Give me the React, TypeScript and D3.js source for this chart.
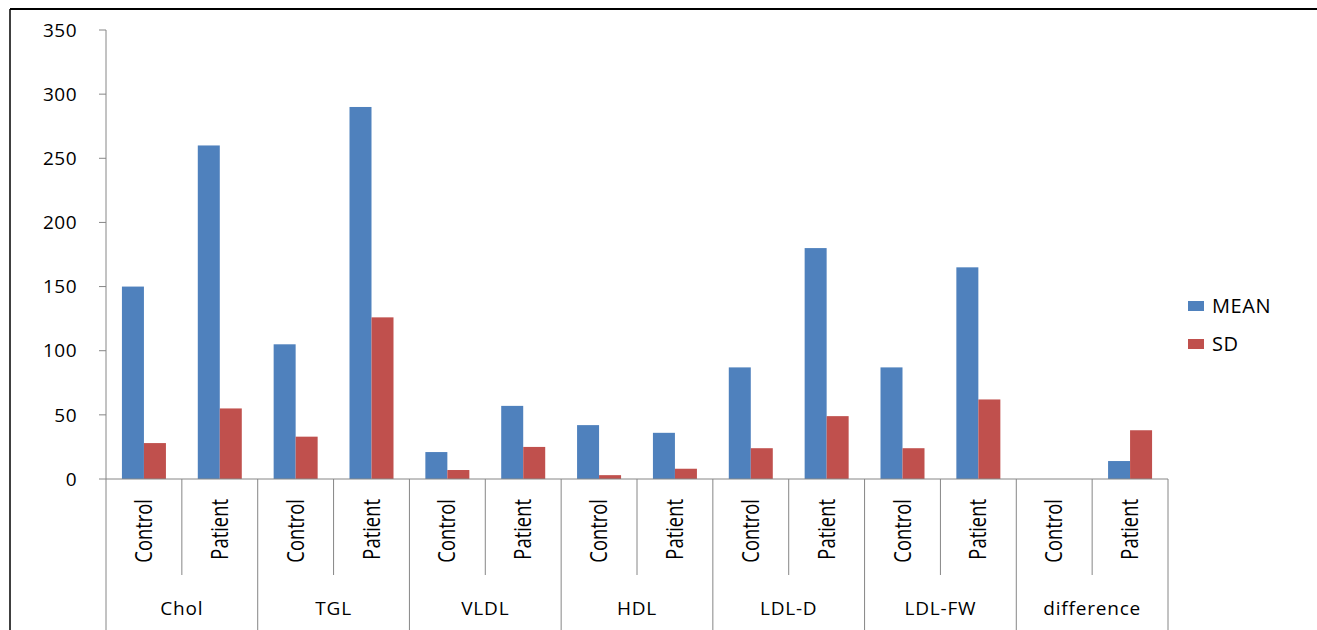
import React from "react";
import * as d3 from "d3";

const groups = ["Chol", "TGL", "VLDL", "HDL", "LDL-D", "LDL-FW", "difference"];
const subs = ["Control", "Patient"];
// values per group: [control, patient]
const meanValues = [[150, 260], [105, 290], [21, 57], [42, 36], [87, 180], [87, 165], [0, 14]];
const sdValues = [[28, 55], [33, 126], [7, 25], [3, 8], [24, 49], [24, 62], [0, 38]];
const yTicks = [0, 50, 100, 150, 200, 250, 300, 350];
const seriesNames = ["MEAN", "SD"];
const colors = ["#4f81bd", "#c0504d"];

const App: React.FC = () => {
  const left = 106, right = 1168, top = 30, bottom = 479;
  const cats = groups.flatMap((g) => subs.map((s) => `${g}|${s}`));
  const x = d3.scaleBand().domain(cats).range([left, right]);
  const y = d3.scaleLinear().domain([0, 350]).range([bottom, top]);
  const bw = 22;
  const axis = "#868686";
  const font = "'Open Sans', 'DejaVu Sans', sans-serif";
  const series = [meanValues, sdValues];

  return (
    <svg width={1317} height={630} style={{ position: "absolute", left: 0, top: 0, background: "#fff" }}>
      <line x1={10} x2={1317} y1={9} y2={9} stroke="#000" strokeWidth={2} />
      <line x1={10} x2={10} y1={9} y2={630} stroke="#000" strokeWidth={1.5} />
      {/* bars */}
      {groups.map((g, gi) =>
        subs.map((s, si) => {
          const cx = x(`${g}|${s}`)! + x.bandwidth() / 2;
          return series.map((vals, k) => {
            const v = vals[gi][si];
            return (
              <rect key={`${g}${s}${k}`} x={cx - bw + k * bw} y={y(v)} width={bw}
                height={bottom - y(v)} fill={colors[k]} />
            );
          });
        })
      )}
      {/* y axis */}
      <line x1={left} x2={left} y1={top} y2={bottom} stroke={axis} />
      {yTicks.map((t) => (
        <g key={t}>
          <line x1={left - 7} x2={left} y1={y(t)} y2={y(t)} stroke={axis} />
          <text x={left - 29} y={y(t)} dy="0.35em" textAnchor="end" fontFamily={font} fontSize={19} letterSpacing={0.5} fill="#000">{t}</text>
        </g>
      ))}
      {/* x axis */}
      <line x1={left} x2={right} y1={bottom} y2={bottom} stroke={axis} />
      {cats.map((c, i) => {
        const x0 = x(c)!;
        const isGroupStart = i % 2 === 0;
        return (
          <line key={c} x1={x0} x2={x0} y1={bottom} y2={isGroupStart ? 630 : 575} stroke={axis} />
        );
      })}
      <line x1={right} x2={right} y1={bottom} y2={630} stroke={axis} />
      {cats.map((c) => {
        const cx = x(c)! + x.bandwidth() / 2;
        const label = c.split("|")[1];
        return (
          <text key={c} transform={`translate(${cx + 8},499) rotate(-90) scale(0.8,1)`} textAnchor="end"
            fontFamily={font} fontSize={23} fill="#000">{label}</text>
        );
      })}
      {groups.map((g) => {
        const cx = x(`${g}|Patient`)!;
        return (
          <text key={g} x={cx} y={615} textAnchor="middle" fontFamily={font} fontSize={19} letterSpacing={0.8} fill="#000">{g}</text>
        );
      })}
      {/* legend */}
      {seriesNames.map((n, k) => (
        <g key={n} transform={`translate(1188,${306 + k * 38})`}>
          <rect x={0} y={-5} width={16} height={10} fill={colors[k]} />
          <text x={24} y={0} dy="0.36em" fontFamily={font} fontSize={20} letterSpacing={0.6} fill="#000">{n}</text>
        </g>
      ))}
    </svg>
  );
};

export default App;
